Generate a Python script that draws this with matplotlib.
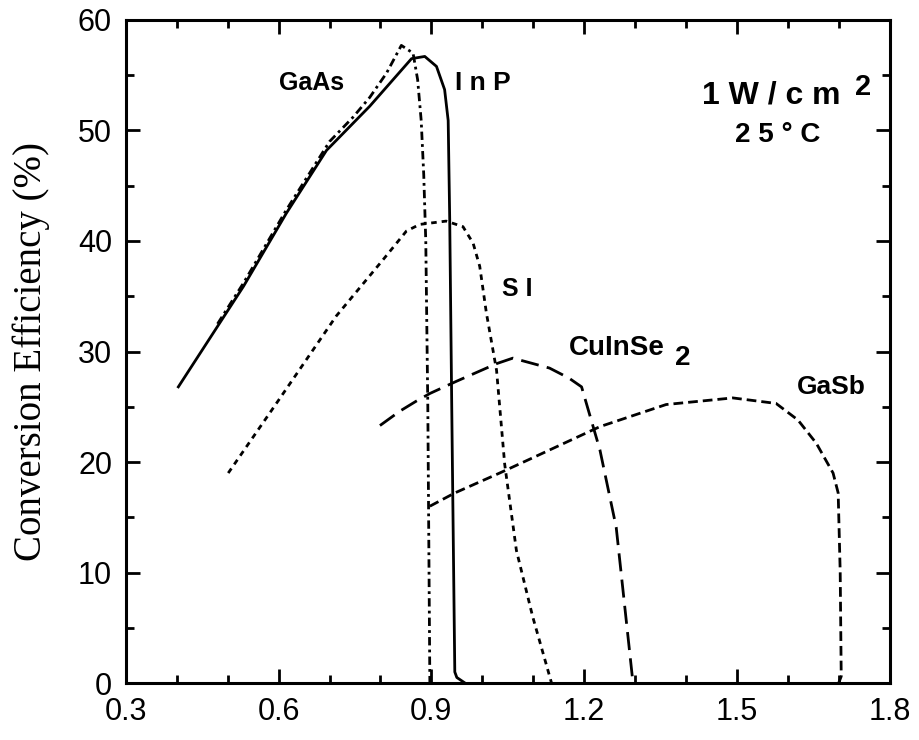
import matplotlib
matplotlib.use("Agg")
import matplotlib.pyplot as plt
from matplotlib.ticker import MultipleLocator, FixedLocator

# ---- data ----
inp_x = [0.403, 0.531, 0.615, 0.694, 0.779, 0.861, 0.887, 0.91, 0.926, 0.933, 0.936, 0.940, 0.946, 0.950, 0.966]
inp_y = [26.8, 35.9, 42.5, 48.2, 52.2, 56.5, 56.7, 55.8, 53.7, 50.9, 42.0, 25.0, 1.0, 0.5, 0.0]

gaas_x = [0.48, 0.531, 0.615, 0.70, 0.746, 0.779, 0.812, 0.841, 0.864, 0.873, 0.880, 0.885, 0.889, 0.893, 0.897]
gaas_y = [32.5, 36.2, 42.8, 49.0, 51.2, 53.0, 55.2, 57.7, 57.0, 54.6, 50.9, 46.0, 40.0, 25.0, 0.0]

si_x = [0.501, 0.60, 0.713, 0.805, 0.851, 0.877, 0.929, 0.962, 0.982, 0.995, 1.008, 1.028, 1.044, 1.067, 1.099, 1.136]
si_y = [19.0, 25.6, 33.2, 38.3, 40.9, 41.5, 41.8, 41.3, 39.8, 37.7, 33.5, 28.3, 19.8, 12.0, 6.0, 0.0]

cis_x = [0.799, 0.82, 0.838, 0.87, 0.897, 0.949, 1.028, 1.06, 1.132, 1.17, 1.195, 1.231, 1.263, 1.296]
cis_y = [23.3, 24.0, 24.6, 25.5, 26.2, 27.3, 28.9, 29.4, 28.5, 27.6, 26.8, 21.1, 14.1, 0.0]

gasb_x = [0.897, 0.946, 1.034, 1.10, 1.231, 1.361, 1.492, 1.577, 1.62, 1.656, 1.689, 1.699, 1.703, 1.705, 1.700]
gasb_y = [16.0, 17.2, 19.0, 20.4, 23.2, 25.2, 25.8, 25.3, 23.8, 21.7, 19.0, 17.2, 10.0, 0.6, 0.0]

x_ticks = [0.3, 0.6, 0.9, 1.2, 1.5, 1.8]
x_ticklabels = ["0.3", "0.6", "0.9", "1.2", "1.5", "1.8"]
y_ticks = [0, 10, 20, 30, 40, 50, 60]

# ---- figure ----
fig = plt.figure(figsize=(9.19, 7.40), dpi=100)
ax = fig.add_axes([0.137, 0.077, 0.831, 0.896])

lw = 2.0
ax.plot(inp_x, inp_y, color="black", lw=lw, linestyle="-")
ax.plot(gaas_x, gaas_y, color="black", lw=lw, dashes=(3, 1.5, 1, 1.5))
ax.plot(si_x, si_y, color="black", lw=lw, dashes=(2, 1.8))
ax.plot(cis_x, cis_y, color="black", lw=lw, dashes=(6.5, 3))
ax.plot(gasb_x, gasb_y, color="black", lw=lw, dashes=(3.5, 1.8))

ax.set_xlim(0.3, 1.8)
ax.set_ylim(0, 60)
ax.xaxis.set_major_locator(FixedLocator(x_ticks))
ax.set_xticklabels(x_ticklabels)
ax.xaxis.set_minor_locator(MultipleLocator(0.1))
ax.yaxis.set_major_locator(FixedLocator(y_ticks))
ax.yaxis.set_minor_locator(MultipleLocator(5))

ax.tick_params(which="both", direction="in", top=True, right=True, width=2)
ax.tick_params(which="major", length=10, labelsize=22, pad=10)
ax.tick_params(which="minor", length=6)
for lab in ax.get_xticklabels() + ax.get_yticklabels():
    lab.set_family("Liberation Sans")
for s in ax.spines.values():
    s.set_linewidth(2.2)

ax.set_ylabel("Conversion Efficiency (%)", family="Liberation Serif", fontsize=28, labelpad=20)

tkw = dict(family="Liberation Sans", fontweight="bold", color="black")
ax.text(0.665, 54.3, "GaAs", fontsize=18, ha="center", va="center", **tkw)
ax.text(1.001, 54.3, "I n P", fontsize=19, ha="center", va="center", **tkw)
ax.text(1.068, 35.7, "S I", fontsize=18, ha="center", va="center", **tkw)
ax.text(1.264, 30.3, "CuInSe", fontsize=20, ha="center", va="center", **tkw)
ax.text(1.394, 29.4, "2", fontsize=20, ha="center", va="center", **tkw)
ax.text(1.686, 26.8, "GaSb", fontsize=19, ha="center", va="center", **tkw)
ax.text(1.568, 53.2, "1 W / c m", fontsize=23, ha="center", va="center", **tkw)
ax.text(1.747, 53.9, "2", fontsize=21, ha="center", va="center", **tkw)
ax.text(1.58, 49.6, "2 5 ° C", fontsize=20, ha="center", va="center", **tkw)

fig.savefig("out.png", dpi=100)
